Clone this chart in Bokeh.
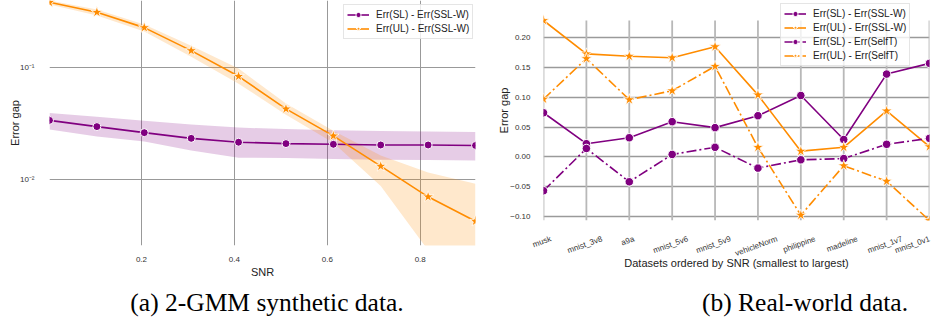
import math
from bokeh.plotting import figure
from bokeh.models import (Range1d, FixedTicker, CustomJSTickFormatter, Legend,
                          LegendItem, Div, Spacer)
from bokeh.layouts import row, column
from bokeh.embed import file_html
from bokeh.resources import INLINE

PURPLE = "#800080"
ORANGE = "#ff8c00"

# ---------------- (a) 2-GMM synthetic data ----------------
snr = [0.002, 0.104, 0.206, 0.307, 0.409, 0.511, 0.613, 0.715, 0.817, 0.919]
gap_sl = [0.0338, 0.0297, 0.0262, 0.0233, 0.0215, 0.0209, 0.0206, 0.0203, 0.0203, 0.0201]
gap_sl_lo = [0.0279, 0.0242, 0.0218, 0.0181, 0.0156, 0.0155, 0.0152, 0.0150, 0.0149, 0.0147]
gap_sl_hi = [0.0394, 0.0365, 0.0336, 0.0310, 0.0291, 0.0282, 0.0276, 0.0271, 0.0268, 0.0266]
gap_ul = [0.388, 0.316, 0.230, 0.143, 0.084, 0.0428, 0.0245, 0.0131, 0.00695, 0.0042]
gap_ul_lo = [0.371, 0.295, 0.212, 0.126, 0.0722, 0.0380, 0.0213, 0.0087, 0.0023, 0.0010]
gap_ul_hi = [0.403, 0.334, 0.245, 0.158, 0.0986, 0.0478, 0.0273, 0.0163, 0.0115, 0.0091]
xticks_a = [0.2, 0.4, 0.6, 0.8]
yticks_a = [0.01, 0.1]

# ---------------- (b) Real-world data ----------------
datasets = ["musk", "mnist_3v8", "a9a", "mnist_5v6", "mnist_5v9", "vehicleNorm",
            "philippine", "madeline", "mnist_1v7", "mnist_0v1"]
sl_sslw = [0.074, 0.022, 0.032, 0.059, 0.049, 0.069, 0.103, 0.029, 0.139, 0.157]
ul_sslw = [0.229, 0.173, 0.169, 0.1665, 0.185, 0.104, 0.0095, 0.016, 0.077, 0.017]
sl_selft = [-0.057, 0.014, -0.042, 0.004, 0.016, -0.019, -0.005, -0.003, 0.021, 0.031]
ul_selft = [0.097, 0.165, 0.096, 0.111, 0.152, 0.016, -0.098, -0.015, -0.041, -0.107]
yticks_b = [-0.10, -0.05, 0.0, 0.05, 0.10, 0.15, 0.20]

SANS = "Liberation Sans"
SERIF = "Liberation Serif"
TXT = "#333333"

# Arial / Liberation Sans advance widths (per 1000 em), for centring rotated labels
ADV = {"a": 556, "c": 500, "d": 556, "e": 556, "h": 556, "i": 222, "k": 500,
       "l": 222, "m": 833, "n": 556, "o": 556, "p": 556, "r": 333, "s": 500,
       "t": 278, "u": 556, "v": 500, "N": 722, "_": 556}


def text_px(s, size):
    return sum(ADV.get(c, 556) for c in s) / 1000.0 * size


def style(p):
    p.outline_line_color = None
    p.background_fill_color = "white"
    p.border_fill_color = "white"
    p.frame_align = False
    for ax in p.axis:
        ax.axis_line_color = None
        ax.major_tick_line_color = None
        ax.minor_tick_line_color = None
        ax.major_label_text_font = SANS
        ax.major_label_text_font_size = "8px"
        ax.major_label_text_color = TXT
        ax.axis_label_text_font = SANS
        ax.axis_label_text_font_size = "11px"
        ax.axis_label_text_font_style = "normal"
        ax.axis_label_text_color = "#222222"


def style_legend(lg):
    lg.label_text_font = SANS
    lg.label_text_font_size = "10px"
    lg.label_text_color = "#222222"
    lg.label_height = 13
    lg.glyph_height = 13
    lg.glyph_width = 22
    lg.label_standoff = 7
    lg.spacing = 1
    lg.padding = 3
    lg.margin = 0
    lg.background_fill_alpha = 0.8
    lg.border_line_color = "#cccccc"
    lg.border_line_width = 1


TOTAL_W = 947
FIG_H = 290
CAP_H = 37
W1 = 483

# ---------- figure (a) ----------
p1 = figure(width=W1, height=FIG_H, x_range=Range1d(snr[0], snr[-1]),
            y_range=Range1d(0.00254, 0.403), y_axis_type="log",
            output_backend="svg", toolbar_location=None,
            min_border_left=49, min_border_right=8, min_border_top=0,
            min_border_bottom=45)
style(p1)
p1.grid.grid_line_color = "#999999"
p1.grid.grid_line_width = 1
p1.varea(x=snr, y1=gap_sl_lo, y2=gap_sl_hi, fill_color=PURPLE, fill_alpha=0.2)
p1.varea(x=snr, y1=gap_ul_lo, y2=gap_ul_hi, fill_color=ORANGE, fill_alpha=0.2)
l1 = p1.line(snr, gap_sl, line_color=PURPLE, line_width=1.6)
s1 = p1.scatter(snr, gap_sl, marker="circle", size=8, fill_color=PURPLE,
                line_color="white", line_width=1)
l2 = p1.line(snr, gap_ul, line_color=ORANGE, line_width=1.6)
s2 = p1.scatter(snr, gap_ul, marker="star", size=12, fill_color=ORANGE,
                line_color="white", line_width=0.8)
p1.xaxis.ticker = FixedTicker(ticks=xticks_a)
p1.yaxis.ticker = FixedTicker(ticks=yticks_a, minor_ticks=[])
p1.yaxis.formatter = CustomJSTickFormatter(code="""
const e = Math.round(Math.log10(tick));
const sup = {'-': '\u207b', '0': '\u2070', '1': '\u00b9', '2': '\u00b2', '3': '\u00b3'};
return '10' + String(e).split('').map(c => sup[c]).join('');
""")
p1.xaxis.axis_label = "SNR"
p1.yaxis.axis_label = "Error gap"
p1.xaxis.major_label_standoff = 5
p1.xaxis.axis_label_standoff = 1
p1.yaxis.major_label_standoff = 9
p1.yaxis.axis_label_standoff = -4
lg1 = Legend(items=[LegendItem(label="Err(SL) - Err(SSL-W)", renderers=[l1, s1]),
                    LegendItem(label="Err(UL) - Err(SSL-W)", renderers=[l2, s2])],
             location=(294, 206))
style_legend(lg1)
p1.add_layout(lg1, "center")

# ---------- figure (b) ----------
xi = list(range(len(datasets)))
B_LEFT, B_RIGHT, B_W = 60, 18, TOTAL_W - W1
B_TOP_PAD, B_DATA_H = 20, 200          # empty strip above the data area (holds legend)
ylo = min(ul_selft)
yhi = max(ul_sslw)
ytop = yhi + (yhi - ylo) * B_TOP_PAD / B_DATA_H
p2 = figure(width=B_W, height=FIG_H, x_range=Range1d(0, len(datasets) - 1),
            y_range=Range1d(ylo, ytop),
            output_backend="svg", toolbar_location=None,
            min_border_left=B_LEFT, min_border_right=B_RIGHT, min_border_top=0,
            min_border_bottom=FIG_H - B_TOP_PAD - B_DATA_H)
style(p2)
p2.xgrid.visible = False
p2.ygrid.grid_line_color = "#9a9a9a"
p2.ygrid.grid_line_width = 1.3
# vertical grid lines only over the data extent
p2.segment(x0=xi, y0=[ylo] * len(xi), x1=xi, y1=[yhi] * len(xi),
           line_color="#b8b8b8", line_width=1.8)
DD = "10 3 2 3"
r1 = p2.line(xi, sl_sslw, line_color=PURPLE, line_width=1.6)
m1 = p2.scatter(xi, sl_sslw, marker="circle", size=8.5, fill_color=PURPLE,
                line_color="white", line_width=1)
r2 = p2.line(xi, ul_sslw, line_color=ORANGE, line_width=1.6)
m2 = p2.scatter(xi, ul_sslw, marker="star", size=12, fill_color=ORANGE,
                line_color="white", line_width=0.8)
r3 = p2.line(xi, sl_selft, line_color=PURPLE, line_width=1.6, line_dash=DD)
m3 = p2.scatter(xi, sl_selft, marker="circle", size=8.5, fill_color=PURPLE,
                line_color="white", line_width=1)
r4 = p2.line(xi, ul_selft, line_color=ORANGE, line_width=1.6, line_dash=DD)
m4 = p2.scatter(xi, ul_selft, marker="star", size=12, fill_color=ORANGE,
                line_color="white", line_width=0.8)

# labels are rotated and anchored at their right end by Bokeh: move each
# tick so that its label is centred on the dataset position
ANG = 0.35
last = len(datasets) - 1
px_per_unit = (B_W - B_LEFT - B_RIGHT) / last
label_ticks = [min(i + (0.5 * text_px(d, 8) * math.cos(ANG) - 4.5 * math.sin(ANG)) / px_per_unit, last)
               for i, d in zip(xi, datasets)]
p2.xaxis.ticker = FixedTicker(ticks=label_ticks)
p2.xaxis.formatter = CustomJSTickFormatter(args=dict(names=datasets), code="""
return names[Math.floor(tick + 1e-6)] || '';
""")
p2.xaxis.major_label_orientation = ANG
p2.yaxis.ticker = FixedTicker(ticks=yticks_b, minor_ticks=[])
p2.yaxis.formatter = CustomJSTickFormatter(code="""
const v = Math.abs(tick) < 1e-9 ? 0 : tick;
return (v < 0 ? '\u2212' : '') + Math.abs(v).toFixed(2);
""")
p2.xaxis.axis_label = "Datasets ordered by SNR (smallest to largest)"
p2.yaxis.axis_label = "Error gap"
p2.xaxis.major_label_standoff = 12
p2.xaxis.axis_label_standoff = -8
p2.yaxis.major_label_standoff = 7
p2.yaxis.axis_label_standoff = -3

lg2 = Legend(items=[LegendItem(label="Err(SL) - Err(SSL-W)", renderers=[r1, m1]),
                    LegendItem(label="Err(UL) - Err(SSL-W)", renderers=[r2, m2]),
                    LegendItem(label="Err(SL) - Err(SelfT)", renderers=[r3, m3]),
                    LegendItem(label="Err(UL) - Err(SelfT)", renderers=[r4, m4])],
             location=(237, 154))
style_legend(lg2)
p2.add_layout(lg2, "center")

# ---------- captions ----------
cap_style = {"font-family": SERIF, "font-size": "25.5px", "text-align": "center",
             "line-height": "16px", "color": "black", "white-space": "nowrap"}
CA_W, CB_W = 524, 314
cap_a = Div(text="(a) 2-GMM synthetic data.", width=CA_W, height=CAP_H, styles=cap_style)
cap_b = Div(text="(b) Real-world data.", width=CB_W, height=CAP_H, styles=cap_style)
caps = row(cap_a, Spacer(width=TOTAL_W - CA_W - CB_W, height=CAP_H), cap_b)

layout = column(row(p1, p2), caps)
open("out.html", "w").write(file_html(layout, INLINE))
